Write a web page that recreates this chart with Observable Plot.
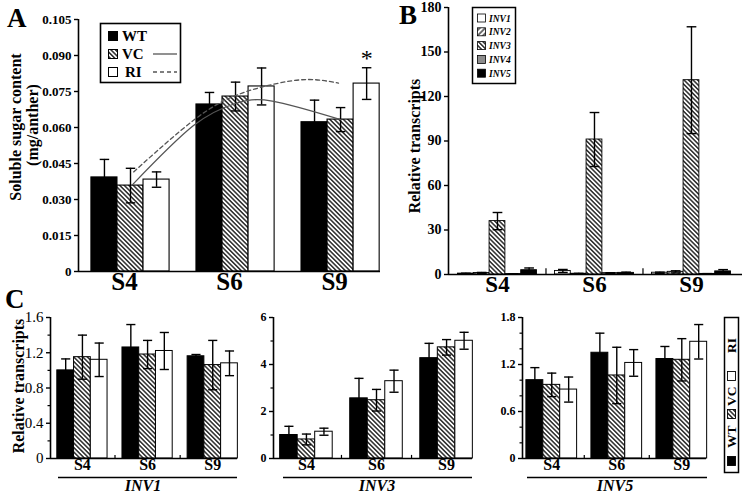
<!DOCTYPE html>
<html><head><meta charset="utf-8">
<script src="https://cdn.jsdelivr.net/npm/d3@7"></script>
<script src="https://cdn.jsdelivr.net/npm/@observablehq/plot@0.6"></script>
<style>
body{margin:0;background:#fff;}
#fig{position:relative;width:742px;height:495px;overflow:hidden;background:#fff;}
#fig svg.plotpanel{position:absolute;}
#overlay{position:absolute;left:0;top:0;pointer-events:none;}
</style>
</head><body><div id="fig"></div>
<script>
// ---------- data ----------
const stages = ["S4", "S6", "S9"];
const genotypes = ["WT", "VC", "RI"];

// Panel A: soluble sugar content (mg/anther)
const sugarWT = [0.0392, 0.0696, 0.0622];
const sugarWTErr = [0.0075, 0.0050, 0.0092];
const sugarVC = [0.0358, 0.0729, 0.0633];
const sugarVCErr = [0.0072, 0.0060, 0.0050];
const sugarRI = [0.0383, 0.0771, 0.0783];
const sugarRIErr = [0.0032, 0.0077, 0.0066];
const sugarTicks = [0, 0.015, 0.030, 0.045, 0.060, 0.075, 0.090, 0.105];
const sugarTickLabels = ["0", "0.015", "0.030", "0.045", "0.060", "0.075", "0.090", "0.105"];
// trend curves (x in stage units: S4=0, S6=1, S9=2)
const vcTrendX = [0.02, 0.6, 1.0, 1.35, 2.0];
const vcTrendY = [0.0362, 0.0608, 0.0700, 0.0710, 0.0633];
const riTrendX = [0.03, 0.6, 1.0, 1.36, 1.69, 1.98];
const riTrendY = [0.0415, 0.0630, 0.0733, 0.0780, 0.0800, 0.0785];

// Panel B: relative transcripts of INV1-INV5
const invGenes = ["INV1", "INV2", "INV3", "INV4", "INV5"];
const bINV1 = [0.6, 2.4, 1.2];
const bINV1Err = [0.3, 1.0, 0.4];
const bINV2 = [1.0, 0.5, 1.8];
const bINV2Err = [0.4, 0.3, 0.7];
const bINV3 = [36.0, 91.0, 131.0];
const bINV3Err = [5.8, 18.2, 36.0];
const bINV4 = [0.3, 0.9, 0.4];
const bINV4Err = [0.1, 0.3, 0.2];
const bINV5 = [2.9, 1.1, 2.1];
const bINV5Err = [1.5, 0.5, 1.2];
const bTicks = [0, 30, 60, 90, 120, 150, 180];

// Panel C: INV1, INV3, INV5 in WT / VC / RI
const inv1WT = [1.00, 1.26, 1.16], inv1WTErr = [0.13, 0.26, 0.02];
const inv1VC = [1.15, 1.18, 1.06], inv1VCErr = [0.25, 0.16, 0.28];
const inv1RI = [1.12, 1.22, 1.08], inv1RIErr = [0.19, 0.21, 0.14];
const inv3WT = [1.00, 2.56, 4.27], inv3WTErr = [0.37, 0.85, 0.63];
const inv3VC = [0.81, 2.48, 4.73], inv3VCErr = [0.23, 0.46, 0.33];
const inv3RI = [1.14, 3.29, 5.01], inv3RIErr = [0.15, 0.47, 0.36];
const inv5WT = [1.00, 1.35, 1.27], inv5WTErr = [0.16, 0.25, 0.16];
const inv5VC = [0.94, 1.06, 1.26], inv5VCErr = [0.15, 0.36, 0.27];
const inv5RI = [0.88, 1.22, 1.49], inv5RIErr = [0.16, 0.17, 0.22];
const c1Ticks = [0, 0.4, 0.8, 1.2, 1.6], c1Minor = [0.2, 0.6, 1.0, 1.4];
const c3Ticks = [0, 2, 4, 6], c3Minor = [1, 3, 5];
const c5Ticks = [0, 0.6, 1.2, 1.8], c5Minor = [0.2, 0.4, 0.8, 1.0, 1.4, 1.6];

// ---------- styles ----------
const SERIF = "'Liberation Serif', 'Times New Roman', serif";
const FILL = {WT: "black", VC: "url(#hatchBack)", RI: "white",
  INV1: "white", INV2: "url(#hatchFwd)", INV3: "url(#hatchBack)", INV4: "#8c8c8c", INV5: "black"};

const fig = document.getElementById("fig");

// overlay svg with pattern defs, legends, titles
const ov = d3.select(fig).append("svg").attr("id", "overlay")
  .attr("width", 742).attr("height", 495).style("z-index", 5)
  .style("font-family", SERIF);
const defs = ov.append("defs");
function hatch(id, rot, w, sw) {
  const p = defs.append("pattern").attr("id", id).attr("patternUnits", "userSpaceOnUse")
    .attr("width", w).attr("height", w).attr("patternTransform", `rotate(${rot})`);
  p.append("rect").attr("width", w).attr("height", w).attr("fill", "white");
  p.append("line").attr("x1", w / 2).attr("x2", w / 2).attr("y1", 0).attr("y2", w)
    .attr("stroke", "black").attr("stroke-width", sw);
}
hatch("hatchBack", -45, 3.2, 1.25);
hatch("hatchFwd", 45, 3.8, 1.1);

function groupedPanel(cfg) {
  const n = cfg.series.length;
  const rows = [];
  cfg.series.forEach((s, j) => s.values.forEach((v, i) => {
    const xc = i + (j - (n - 1) / 2) * cfg.bw;
    rows.push({stage: stages[i], name: s.name, xc, x1: xc - cfg.bw / 2, x2: xc + cfg.bw / 2,
      y: v, lo: Math.max(0, v - s.errs[i]), hi: v + s.errs[i]});
  }));
  const cap = cfg.cap;
  const marks = [];
  cfg.series.forEach(s => {
    marks.push(Plot.rect(rows.filter(r => r.name === s.name),
      {x1: "x1", x2: "x2", y1: 0, y2: "y", fill: FILL[s.name], stroke: "black", strokeWidth: cfg.barStroke || 1}));
  });
  marks.push(Plot.ruleX(rows, {x: "xc", y1: "lo", y2: "hi", stroke: "black", strokeWidth: 1.4}));
  marks.push(Plot.link(rows, {x1: d => d.xc - cap, x2: d => d.xc + cap, y1: "hi", y2: "hi", stroke: "black", strokeWidth: 1.4}));
  marks.push(Plot.link(rows, {x1: d => d.xc - cap, x2: d => d.xc + cap, y1: "lo", y2: "lo", stroke: "black", strokeWidth: 1.4}));
  if (cfg.extra) marks.push(...cfg.extra(rows));
  marks.push(Plot.ruleY([0], {stroke: "black", strokeWidth: 1.6}));
  marks.push(Plot.ruleX([cfg.xdomain[0]], {stroke: "black", strokeWidth: 1.6}));
  if (cfg.groupTicks) marks.push(Plot.ruleX([0.5, 1.5], {y1: 0, y2: cfg.ydomain[1] * 0.022, stroke: "black", strokeWidth: 1.2}));
  marks.push(Plot.axisY({ticks: cfg.yticks, tickFormat: cfg.yfmt, tickSize: 4, tickPadding: 3, label: null,
    fontSize: cfg.yFont, fontWeight: cfg.yWeight || "bold", fontFamily: SERIF, strokeWidth: 1.4}));
  if (cfg.yminor) marks.push(Plot.axisY({ticks: cfg.yminor, tickFormat: () => "", tickSize: 2.5, label: null, strokeWidth: 1.2}));
  marks.push(Plot.axisX({ticks: [0, 1, 2], tickFormat: i => stages[i], tickSize: 0, tickPadding: cfg.xPad, label: null,
    fontSize: cfg.xFont, fontWeight: "bold", fontFamily: SERIF, dx: cfg.xdx || 0}));
  const svg = Plot.plot({
    width: cfg.width, height: cfg.height,
    marginLeft: cfg.ml, marginRight: cfg.mr, marginTop: cfg.mt, marginBottom: cfg.mb,
    x: {type: "linear", domain: cfg.xdomain, label: null},
    y: {type: "linear", domain: cfg.ydomain, label: null},
    style: {fontFamily: SERIF, fontWeight: "bold", background: "transparent", overflow: "visible", color: "black"},
    marks
  });
  svg.classList.add("plotpanel");
  svg.style.left = cfg.left + "px";
  svg.style.top = cfg.top + "px";
  fig.insertBefore(svg, document.getElementById("overlay"));
  return svg;
}

// ---------- Panel A ----------
groupedPanel({
  left: 0, top: 0, width: 385, height: 295, ml: 78, mr: 5, mt: 19, mb: 24,
  xdomain: [-0.495, 2.38], ydomain: [0, 0.105], bw: 0.248, cap: 0.045, barStroke: 1.1,
  series: [
    {name: "WT", values: sugarWT, errs: sugarWTErr},
    {name: "VC", values: sugarVC, errs: sugarVCErr},
    {name: "RI", values: sugarRI, errs: sugarRIErr}
  ],
  yticks: sugarTicks, yfmt: (d, i) => sugarTickLabels[sugarTicks.indexOf(d)], yFont: 13,
  xFont: 25, xPad: 1, xdx: -6,
  extra: rows => [
    Plot.line(vcTrendX.map((x, k) => ({x, y: vcTrendY[k]})), {x: "x", y: "y", curve: "natural", stroke: "#555", strokeWidth: 1.3}),
    Plot.line(riTrendX.map((x, k) => ({x, y: riTrendY[k]})), {x: "x", y: "y", curve: "natural", stroke: "#555", strokeWidth: 1.3, strokeDasharray: "4,3"}),
    Plot.text(rows.filter(r => r.name === "RI" && r.stage === "S9"), {x: "xc", y: "hi", text: () => "*", dy: -9, fontSize: 24, fontFamily: SERIF, fontWeight: "normal"})
  ]
});

// ---------- Panel B ----------
groupedPanel({
  left: 380, top: 0, width: 362, height: 295, ml: 68, mr: 0, mt: 7, mb: 21,
  xdomain: [-0.505, 2.526], ydomain: [0, 180], bw: 0.163, cap: 0.05, barStroke: 0.9,
  series: [
    {name: "INV1", values: bINV1, errs: bINV1Err},
    {name: "INV2", values: bINV2, errs: bINV2Err},
    {name: "INV3", values: bINV3, errs: bINV3Err},
    {name: "INV4", values: bINV4, errs: bINV4Err},
    {name: "INV5", values: bINV5, errs: bINV5Err}
  ],
  yticks: bTicks, yfmt: d => String(d), yFont: 14, groupTicks: true,
  xFont: 23, xPad: 1
});

// ---------- Panel C ----------
const cSeries = (w, we, v, ve, r, re) => [
  {name: "WT", values: w, errs: we}, {name: "VC", values: v, errs: ve}, {name: "RI", values: r, errs: re}];
groupedPanel({
  left: 0, top: 290, width: 245, height: 205, ml: 50, mr: 8, mt: 27, mb: 37,
  xdomain: [-0.49, 2.38], ydomain: [0, 1.6], bw: 0.257, cap: 0.07,
  series: cSeries(inv1WT, inv1WTErr, inv1VC, inv1VCErr, inv1RI, inv1RIErr),
  yticks: c1Ticks, yminor: c1Minor, yfmt: d => d === 0 ? "0" : d.toFixed(1), yFont: 15, yWeight: "normal",
  groupTicks: true, xFont: 16, xPad: 0
});
groupedPanel({
  left: 245, top: 290, width: 240, height: 205, ml: 28, mr: 13, mt: 27, mb: 37,
  xdomain: [-0.47, 2.37], ydomain: [0, 6], bw: 0.25, cap: 0.065,
  series: cSeries(inv3WT, inv3WTErr, inv3VC, inv3VCErr, inv3RI, inv3RIErr),
  yticks: c3Ticks, yminor: c3Minor, yfmt: d => String(d), yFont: 12,
  groupTicks: true, xFont: 16, xPad: 0
});
groupedPanel({
  left: 485, top: 290, width: 257, height: 205, ml: 37, mr: 36, mt: 27, mb: 37,
  xdomain: [-0.45, 2.38], ydomain: [0, 1.8], bw: 0.26, cap: 0.07,
  series: cSeries(inv5WT, inv5WTErr, inv5VC, inv5VCErr, inv5RI, inv5RIErr),
  yticks: c5Ticks, yminor: c5Minor, yfmt: d => d === 0 ? "0" : d.toFixed(1), yFont: 12,
  groupTicks: true, xFont: 16, xPad: 0
});

// ---------- overlay annotations ----------
function txt(x, y, s, size, opts = {}) {
  const t = ov.append("text").attr("x", x).attr("y", y).text(s)
    .attr("font-size", size).attr("font-weight", opts.weight || "bold")
    .attr("font-style", opts.style || "normal").attr("text-anchor", opts.anchor || "start")
    .attr("fill", "black");
  if (opts.rotate !== undefined) t.attr("transform", `rotate(${opts.rotate},${x},${y})`);
  if (opts.baseline) t.attr("dominant-baseline", opts.baseline);
  return t;
}
// panel letters
txt(7, 27, "A", 27);
txt(399, 24, "B", 27);
txt(5, 308, "C", 27);
// axis titles
txt(15, 127, "Soluble sugar content", 16, {rotate: -90, anchor: "middle", baseline: "central"});
txt(32, 125, "(mg/anther)", 16, {rotate: -90, anchor: "middle", baseline: "central"});
txt(414, 146, "Relative transcripts", 16, {rotate: -90, anchor: "middle", baseline: "central"});
txt(18, 386, "Relative transcripts", 16, {rotate: -90, anchor: "middle", baseline: "central"});

// Legend A
ov.append("rect").attr("x", 100.5).attr("y", 23.5).attr("width", 80).attr("height", 59)
  .attr("fill", "white").attr("stroke", "black").attr("stroke-width", 1.6);
[["WT", 36], ["VC", 54], ["RI", 72]].forEach(([g, y]) => {
  ov.append("rect").attr("x", 108.5).attr("y", y - 4.5).attr("width", 9).attr("height", 9)
    .attr("fill", FILL[g]).attr("stroke", "black").attr("stroke-width", 1);
  txt(g === "RI" ? 125 : 122, y + 5, g, 15);
});
ov.append("line").attr("x1", 153).attr("x2", 177).attr("y1", 54).attr("y2", 54).attr("stroke", "#555").attr("stroke-width", 1.3);
ov.append("line").attr("x1", 153).attr("x2", 177).attr("y1", 72).attr("y2", 72).attr("stroke", "#555").attr("stroke-width", 1.3).attr("stroke-dasharray", "4,3");

// Legend B
ov.append("rect").attr("x", 472.5).attr("y", 7.5).attr("width", 43).attr("height", 76)
  .attr("fill", "white").attr("stroke", "black").attr("stroke-width", 1.5);
invGenes.forEach((g, k) => {
  const y = 18 + k * 13.8;
  ov.append("rect").attr("x", 477.5).attr("y", y - 4).attr("width", 8).attr("height", 8)
    .attr("fill", FILL[g]).attr("stroke", "black").attr("stroke-width", 0.8);
  txt(489, y + 3.5, g, 9.5, {style: "italic"});
});

// Legend C (vertical, rotated)
ov.append("rect").attr("x", 724.5).attr("y", 317.5).attr("width", 14).attr("height", 155)
  .attr("fill", "white").attr("stroke", "black").attr("stroke-width", 1.5);
[["WT", 461, 448], ["VC", 414, 406], ["RI", 376, 353]].forEach(([g, ys, yt]) => {
  ov.append("rect").attr("x", 727.5).attr("y", ys - 4.5).attr("width", 8).attr("height", 9)
    .attr("fill", FILL[g]).attr("stroke", "black").attr("stroke-width", 0.9);
  txt(736, yt, g, 13.5, {rotate: -90});
});

// Gene underlines and names in C
[[58, 237, 143, "INV1"], [283, 472, 377, "INV3"], [527, 707, 615, "INV5"]].forEach(([a, b, c, g]) => {
  ov.append("line").attr("x1", a).attr("x2", b).attr("y1", 477.5).attr("y2", 477.5).attr("stroke", "black").attr("stroke-width", 1.5);
  txt(c, 491, g, 16, {style: "italic", anchor: "middle"});
});
</script>
</body></html>
